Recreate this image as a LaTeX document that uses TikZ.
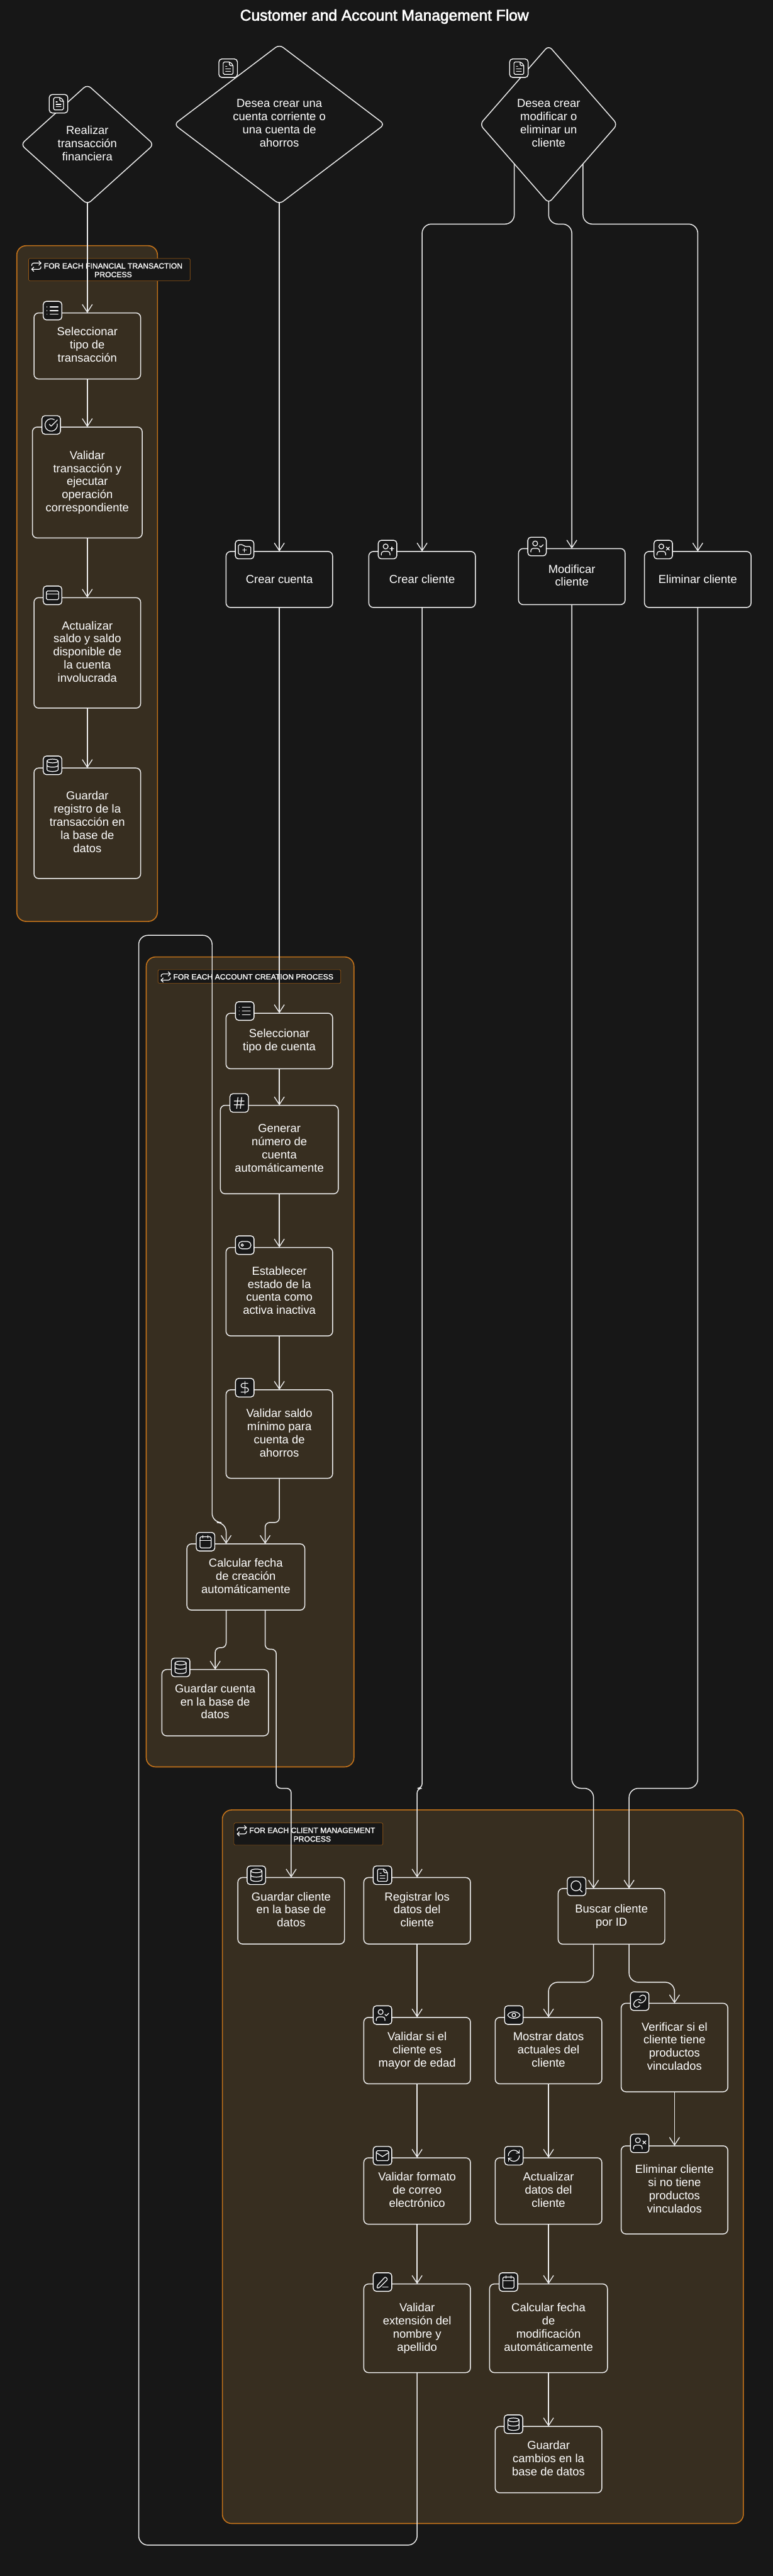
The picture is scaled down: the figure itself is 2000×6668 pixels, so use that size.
\documentclass[tikz,border=0pt]{standalone}
\usepackage{fontspec}
\setmainfont{Liberation Sans}
\newfontfamily\gruesa[FakeBold=1.5]{Liberation Sans}
\newfontfamily\titular[FakeBold=2.5]{Liberation Sans}
\usepackage{tikz}
\usetikzlibrary{arrows.meta}
\usetikzlibrary{shapes.geometric}

\definecolor{fondo}{HTML}{171717}
\definecolor{grupo}{HTML}{372E20}
\definecolor{naranja}{HTML}{C4731A}
\definecolor{linea}{HTML}{EDEDED}

\newcommand{\linerule}{\rule[-6.6pt]{0pt}{34pt}}

\tikzset{
    stepbox/.style={draw=linea, line width=2.4pt, rounded corners=12pt, outer sep=0pt, inner sep=0pt, text=white, align=center,
        font=\fontsize{30}{34}\selectfont, minimum width=276pt, minimum height=#1,
        execute at begin node=\linerule, execute at end node=\linerule},
    widebox/.style={minimum width=305pt},
    choice/.style={diamond, draw=linea, line width=2.4pt, rounded corners=12pt, outer sep=0pt, inner sep=0pt, text=white, align=center,
        font=\fontsize{30}{34}\selectfont,
        execute at begin node=\linerule, execute at end node=\linerule},
    grupobox/.style={draw=naranja, fill=grupo, line width=2.6pt, rounded corners=24pt, outer sep=0pt},
    looptag/.style={draw=naranja!80!black, fill=fondo, line width=1pt, rounded corners=3pt, outer sep=0pt},
    looptext/.style={text=white, align=center, inner sep=0pt, font=\fontsize{19.8}{22.4}\gruesa},
    badge/.style={draw=white, fill=fondo, line width=2.2pt, rounded corners=8pt, minimum size=48pt, inner sep=0pt},
    glyph/.style={draw=white, line width=2pt, line cap=round, line join=round},
    flow/.style={->, draw=linea, line width=2.4pt, rounded corners=24pt},
    jog/.style={flow, rounded corners=12pt},
    >={Straight Barb[length=20pt,width=26pt,line width=2.2pt]}
}

% Iconos, en una reticula de 24 unidades
\newcommand{\gfile}{\draw[rounded corners=3pt] (15,2) -- (4,2) -- (4,22) -- (20,22) -- (20,7) -- cycle;
    \draw[rounded corners=3pt] (14,2) -- (14,8) -- (20,8);
    \draw (10,9) -- (8,9) (16,13) -- (8,13) (16,17) -- (8,17);}
\newcommand{\glist}{\draw (8,6) -- (21,6) (8,12) -- (21,12) (8,18) -- (21,18) (3,6) -- (3.01,6) (3,12) -- (3.01,12) (3,18) -- (3.01,18);}
\newcommand{\gcheck}{\draw (21.85,10.26) arc[start angle=-10,end angle=300,radius=10];
    \draw (9,11) -- (12,14) -- (22,4);}
\newcommand{\gcard}{\draw[rounded corners=3pt] (2,5) rectangle (22,19);
    \draw (2,10) -- (22,10);}
\newcommand{\gbase}{\draw (12,5) ellipse [x radius=9,y radius=3];
    \draw (3,5) -- (3,19) arc[start angle=180,end angle=0,x radius=9,y radius=3] -- (21,5);
    \draw (3,12) arc[start angle=180,end angle=0,x radius=9,y radius=3];}
\newcommand{\gfolder}{\draw[rounded corners=3pt] (2,4) -- (9,4) -- (12,7) -- (22,7) -- (22,20) -- (2,20) -- cycle;
    \draw (12,10) -- (12,16) (9,13) -- (15,13);}
\newcommand{\guser}{\draw (9,7) circle (4);
    \draw[rounded corners=6pt] (2,21) -- (2,15) -- (16,15) -- (16,21);}
\newcommand{\guserplus}{\guser\draw (19,8) -- (19,14) (16,11) -- (22,11);}
\newcommand{\gusercheck}{\guser\draw (16,11) -- (18,13) -- (22,9);}
\newcommand{\guserx}{\guser\draw (17,8) -- (22,13) (22,8) -- (17,13);}
\newcommand{\ghash}{\draw (4,9) -- (20,9) (4,15) -- (20,15) (10,3) -- (8,21) (16,3) -- (14,21);}
\newcommand{\gtoggle}{\draw[rounded corners=9pt] (2,6) rectangle (22,18);
    \draw (8,12) circle (2);}
\newcommand{\gdollar}{\draw (12,2) -- (12,22);
    \draw (17,5) -- (9.5,5) arc[start angle=-90,end angle=-270,radius=3.5] -- (14.5,12) arc[start angle=-90,end angle=90,radius=3.5] -- (6,19);}
\newcommand{\gcalendar}{\draw[rounded corners=3pt] (3,4) rectangle (21,22);
    \draw (8,2) -- (8,6) (16,2) -- (16,6) (3,10) -- (21,10);}
\newcommand{\gsearch}{\draw (11,11) circle (8);
    \draw (21,21) -- (16.65,16.65);}
\newcommand{\geye}{\draw (2,12) .. controls (5,5) and (19,5) .. (22,12) .. controls (19,19) and (5,19) .. (2,12);
    \draw (12,12) circle (3);}
\newcommand{\grefresh}{\draw (3,12) arc[start angle=180,end angle=315,radius=9] -- (21,8);
    \draw (21,3) -- (21,8) -- (16,8);
    \draw (21,12) arc[start angle=0,end angle=135,radius=9] -- (3,16);
    \draw (8,16) -- (3,16) -- (3,21);}
\newcommand{\gmail}{\draw[rounded corners=3pt] (2,4) rectangle (22,20);
    \draw (22,7) -- (12,13.5) -- (2,7);}
\newcommand{\gpen}{\draw (12,20) -- (21,20);
    \draw[rounded corners=2pt] (16.5,3.5) -- (20.5,7.5) -- (7,21) -- (3,22) -- (4,17) -- cycle;}
\newcommand{\glink}{\draw (10,13) .. controls (12,15.5) and (15.5,15.5) .. (17.54,13.54) -- (20.54,10.54) .. controls (22.5,8.5) and (22.5,5.5) .. (20.54,3.46) .. controls (18.5,1.5) and (15.5,1.5) .. (13.47,3.47) -- (11.75,5.18);
    \draw (14,11) .. controls (12,8.5) and (8.5,8.5) .. (6.46,10.46) -- (3.46,13.46) .. controls (1.5,15.5) and (1.5,18.5) .. (3.46,20.54) .. controls (5.5,22.5) and (8.5,22.5) .. (10.53,20.53) -- (12.24,18.82);}
\newcommand{\grepeat}{\draw (17,2) -- (21,6) -- (17,10) (7,22) -- (3,18) -- (7,14);
    \draw[rounded corners=5pt] (3,11) -- (3,6) -- (21,6);
    \draw[rounded corners=5pt] (21,13) -- (21,18) -- (3,18);}

\newcommand{\badgeat}[4]{\node[badge] (#1) at (#2,#3) {};
    \begin{scope}[shift={(#1.center)},scale=1.6,shift={(-12,-12)},glyph] #4 \end{scope}}
\newcommand{\loopicon}[2]{\begin{scope}[shift={(#1,#2)},scale=1.33,shift={(-12,-12)},glyph] \grepeat \end{scope}}

\begin{document}
\begin{tikzpicture}[x=1pt, y=-1pt]
            \path[use as bounding box, fill=fondo] (0,0) rectangle (2000,6668);
            \node[text=white, font=\fontsize{40}{44}\titular] (titulo) at (995,43) {Customer and Account Management Flow};

            % Grupos
            \node[grupobox, minimum width=364pt, minimum height=1749pt] (grupofin) at (225.5,1510.5) {};
            \node[grupobox, minimum width=537.5pt, minimum height=2096.5pt] (grupocta) at (647.3,3525.3) {};
            \node[grupobox, minimum width=1348.5pt, minimum height=1847pt] (grupocli) at (1249.8,5608.5) {};
            \node[looptag, minimum width=418pt, minimum height=58pt] (tagfin) at (283,698) {};
            \node[looptext] (textfin) at (293,699.5) {FOR EACH FINANCIAL TRANSACTION\\PROCESS};
            \node[looptag, minimum width=473pt, minimum height=35.5pt] (tagcta) at (645.5,2527.7) {};
            \node[looptext] (textcta) at (655.5,2528.5) {FOR EACH ACCOUNT CREATION PROCESS};
            \node[looptag, minimum width=385.5pt, minimum height=57.4pt] (tagcli) at (798.2,4747.3) {};
            \node[looptext] (textcli) at (808,4749) {FOR EACH CLIENT MANAGEMENT\\PROCESS};
            \loopicon{94}{689}
            \loopicon{429}{2529}
            \loopicon{626}{4739}

            % Decisiones
            \node[choice, minimum width=344pt, minimum height=310pt] (realizar) at (226,374) {Realizar\\transacción\\financiera};
            \node[choice, minimum width=545pt, minimum height=413pt] (desea) at (723,322) {Desea crear una\\cuenta corriente o\\una cuenta de\\ahorros};
            \node[choice, minimum width=356pt, minimum height=408pt] (gestion) at (1420,322) {Desea crear\\modificar o\\eliminar un\\cliente};

            % Transaccion financiera
            \node[stepbox=171pt] (seltipo) at (226,895.5) {Seleccionar\\tipo de\\transacción};
            \node[stepbox=287pt, minimum width=284pt] (validartx) at (226,1249) {Validar\\transacción y\\ejecutar\\operación\\correspondiente};
            \node[stepbox=286pt] (actsaldo) at (226,1690) {Actualizar\\saldo y saldo\\disponible de\\la cuenta\\involucrada};
            \node[stepbox=286pt] (guardareg) at (226,2131) {Guardar\\registro de la\\transacción en\\la base de\\datos};

            % Entradas
            \node[stepbox=145pt] (crearcta) at (723,1500) {Crear cuenta};
            \node[stepbox=145pt] (crearcli) at (1092.5,1500) {Crear cliente};
            \node[stepbox=145pt] (modcli) at (1480,1492.5) {Modificar\\cliente};
            \node[stepbox=145pt] (elicli) at (1806,1500) {Eliminar cliente};

            % Creacion de cuenta
            \node[stepbox=144pt] (selcta) at (723,2694.6) {Seleccionar\\tipo de cuenta};
            \node[stepbox=229pt, widebox] (generar) at (723,2975.6) {Generar\\número de\\cuenta\\automáticamente};
            \node[stepbox=229pt] (estado) at (723,3343.5) {Establecer\\estado de la\\cuenta como\\activa inactiva};
            \node[stepbox=229pt] (valsaldo) at (723,3712) {Validar saldo\\mínimo para\\cuenta de\\ahorros};
            \node[stepbox=171.5pt, widebox] (calcfecha) at (636.3,4082) {Calcular fecha\\de creación\\automáticamente};
            \node[stepbox=171.5pt] (guardacta) at (557,4407.4) {Guardar cuenta\\en la base de\\datos};

            % Gestion de cliente
            \node[stepbox=172pt] (guardacli) at (753.7,4946) {Guardar cliente\\en la base de\\datos};
            \node[stepbox=172pt] (registrar) at (1079.6,4946) {Registrar los\\datos del\\cliente};
            \node[stepbox=172pt] (valedad) at (1079.6,5308) {Validar si el\\cliente es\\mayor de edad};
            \node[stepbox=172pt] (valcorreo) at (1079.6,5671.4) {Validar formato\\de correo\\electrónico};
            \node[stepbox=229.4pt] (valnombre) at (1079.6,6026.7) {Validar\\extensión del\\nombre y\\apellido};
            \node[stepbox=144pt] (buscar) at (1582.7,4960.5) {Buscar cliente\\por ID};
            \node[stepbox=172pt] (mostrar) at (1419.7,5308) {Mostrar datos\\actuales del\\cliente};
            \node[stepbox=172pt] (actdatos) at (1419.7,5671.4) {Actualizar\\datos del\\cliente};
            \node[stepbox=229.4pt, widebox] (calcmod) at (1419.7,6026.7) {Calcular fecha\\de\\modificación\\automáticamente};
            \node[stepbox=172pt] (guardacam) at (1419.7,6366.6) {Guardar\\cambios en la\\base de datos};
            \node[stepbox=229pt] (verificar) at (1745.8,5300) {Verificar si el\\cliente tiene\\productos\\vinculados};
            \node[stepbox=228pt] (elisi) at (1745.8,5668.5) {Eliminar cliente\\si no tiene\\productos\\vinculados};

            % Puntos de paso
            \coordinate (jogtop) at (0,580);
            \coordinate (jogcalc) at (0,3941);
            \coordinate (jogguarda) at (0,4265);
            \coordinate (jogcli) at (0,4629);
            \coordinate (jogbus) at (0,5131);
            \coordinate (jogsale) at (715,4269);
            \coordinate (loopabajo) at (359,6588);
            \coordinate (looparriba) at (549,2421);
            \coordinate (calcin) at ([xshift=50pt]calcfecha.north);
            \coordinate (calcloop) at ([xshift=-51pt]calcfecha.north);
            \coordinate (calcizq) at ([xshift=-51pt]calcfecha.south);
            \coordinate (calcder) at ([xshift=50pt]calcfecha.south);
            \coordinate (busin) at ([xshift=-46.5pt]buscar.north);
            \coordinate (busdos) at ([xshift=45.5pt]buscar.north);
            \coordinate (busizq) at ([xshift=-46.5pt]buscar.south);
            \coordinate (busder) at ([xshift=45.5pt]buscar.south);

            % Conectores
            \draw[flow] ([yshift=5pt]realizar.south) -- (seltipo.north);
            \draw[flow] (seltipo.south) -- (validartx.north);
            \draw[flow] (validartx.south) -- (actsaldo.north);
            \draw[flow] (actsaldo.south) -- (guardareg.north);
            \draw[flow] ([yshift=5pt]desea.south) -- (crearcta.north);
            \draw[flow] (gestion.south west) |- (jogtop -| crearcli) -- (crearcli.north);
            \draw[flow] ([yshift=5pt]gestion.south) |- (jogtop -| modcli) -- (modcli.north);
            \draw[flow] (gestion.south east) |- (jogtop -| elicli) -- (elicli.north);
            \draw[flow] (crearcta.south) -- (selcta.north);
            \draw[flow] (selcta.south) -- (generar.north);
            \draw[flow] (generar.south) -- (estado.north);
            \draw[flow] (estado.south) -- (valsaldo.north);
            \draw[jog] (valsaldo.south) |- (jogcalc -| calcin) -- (calcin);
            \draw[jog] (calcizq) |- (jogguarda -| guardacta) -- (guardacta.north);
            \draw[jog] (calcder) |- (jogsale) |- (jogcli -| guardacli) -- (guardacli.north);
            \draw[jog] (crearcli.south) |- (jogcli -| registrar) -- (registrar.north);
            \draw[flow] (modcli.south) |- (jogcli -| busin) -- (busin);
            \draw[flow] (elicli.south) |- (jogcli -| busdos) -- (busdos);
            \draw[flow] (registrar.south) -- (valedad.north);
            \draw[flow] (valedad.south) -- (valcorreo.north);
            \draw[flow] (valcorreo.south) -- (valnombre.north);
            \draw[flow] (valnombre.south) |- (loopabajo) |- (looparriba) |- (jogcalc -| calcloop) -- (calcloop);
            \draw[flow] (busizq) |- (jogbus -| mostrar) -- (mostrar.north);
            \draw[flow] (busder) |- (jogbus -| verificar) -- (verificar.north);
            \draw[flow] (mostrar.south) -- (actdatos.north);
            \draw[flow] (actdatos.south) -- (calcmod.north);
            \draw[flow] (calcmod.south) -- (guardacam.north);
            \draw[flow] (verificar.south) -- (elisi.north);

            % Iconos
            \badgeat{icorealizar}{151.5}{268.5}{\gfile}
            \badgeat{icodesea}{590.5}{176.5}{\gfile}
            \badgeat{icogestion}{1343}{176.5}{\gfile}
            \badgeat{icoseltipo}{136}{804}{\glist}
            \badgeat{icovalidartx}{132.5}{1100}{\gcheck}
            \badgeat{icoactsaldo}{136}{1541}{\gcard}
            \badgeat{icoguardareg}{136}{1981}{\gbase}
            \badgeat{icocrearcta}{633}{1422.5}{\gfolder}
            \badgeat{icocrearcli}{1003}{1422.5}{\guserplus}
            \badgeat{icomodcli}{1390}{1414.7}{\gusercheck}
            \badgeat{icoelicli}{1716.5}{1422.5}{\guserx}
            \badgeat{icoselcta}{633.5}{2617}{\glist}
            \badgeat{icogenerar}{619}{2855}{\ghash}
            \badgeat{icoestado}{633.5}{3223}{\gtoggle}
            \badgeat{icovalsaldo}{633.5}{3592}{\gdollar}
            \badgeat{icocalcfecha}{532}{3990.7}{\gcalendar}
            \badgeat{icoguardacta}{467.5}{4316}{\gbase}
            \badgeat{icoguardacli}{663.5}{4854}{\gbase}
            \badgeat{icoregistrar}{990}{4854}{\gfile}
            \badgeat{icovaledad}{990}{5216}{\gusercheck}
            \badgeat{icovalcorreo}{990}{5580}{\gmail}
            \badgeat{icovalnombre}{990}{5907}{\gpen}
            \badgeat{icobuscar}{1492.4}{4883}{\gsearch}
            \badgeat{icomostrar}{1330}{5216}{\geye}
            \badgeat{icoactdatos}{1330}{5580}{\grefresh}
            \badgeat{icocalcmod}{1316}{5907}{\gcalendar}
            \badgeat{icoguardacam}{1329}{6275}{\gbase}
            \badgeat{icoverificar}{1655.7}{5180}{\glink}
            \badgeat{icoelisi}{1655.7}{5548}{\guserx}
        \end{tikzpicture}
\end{document}
